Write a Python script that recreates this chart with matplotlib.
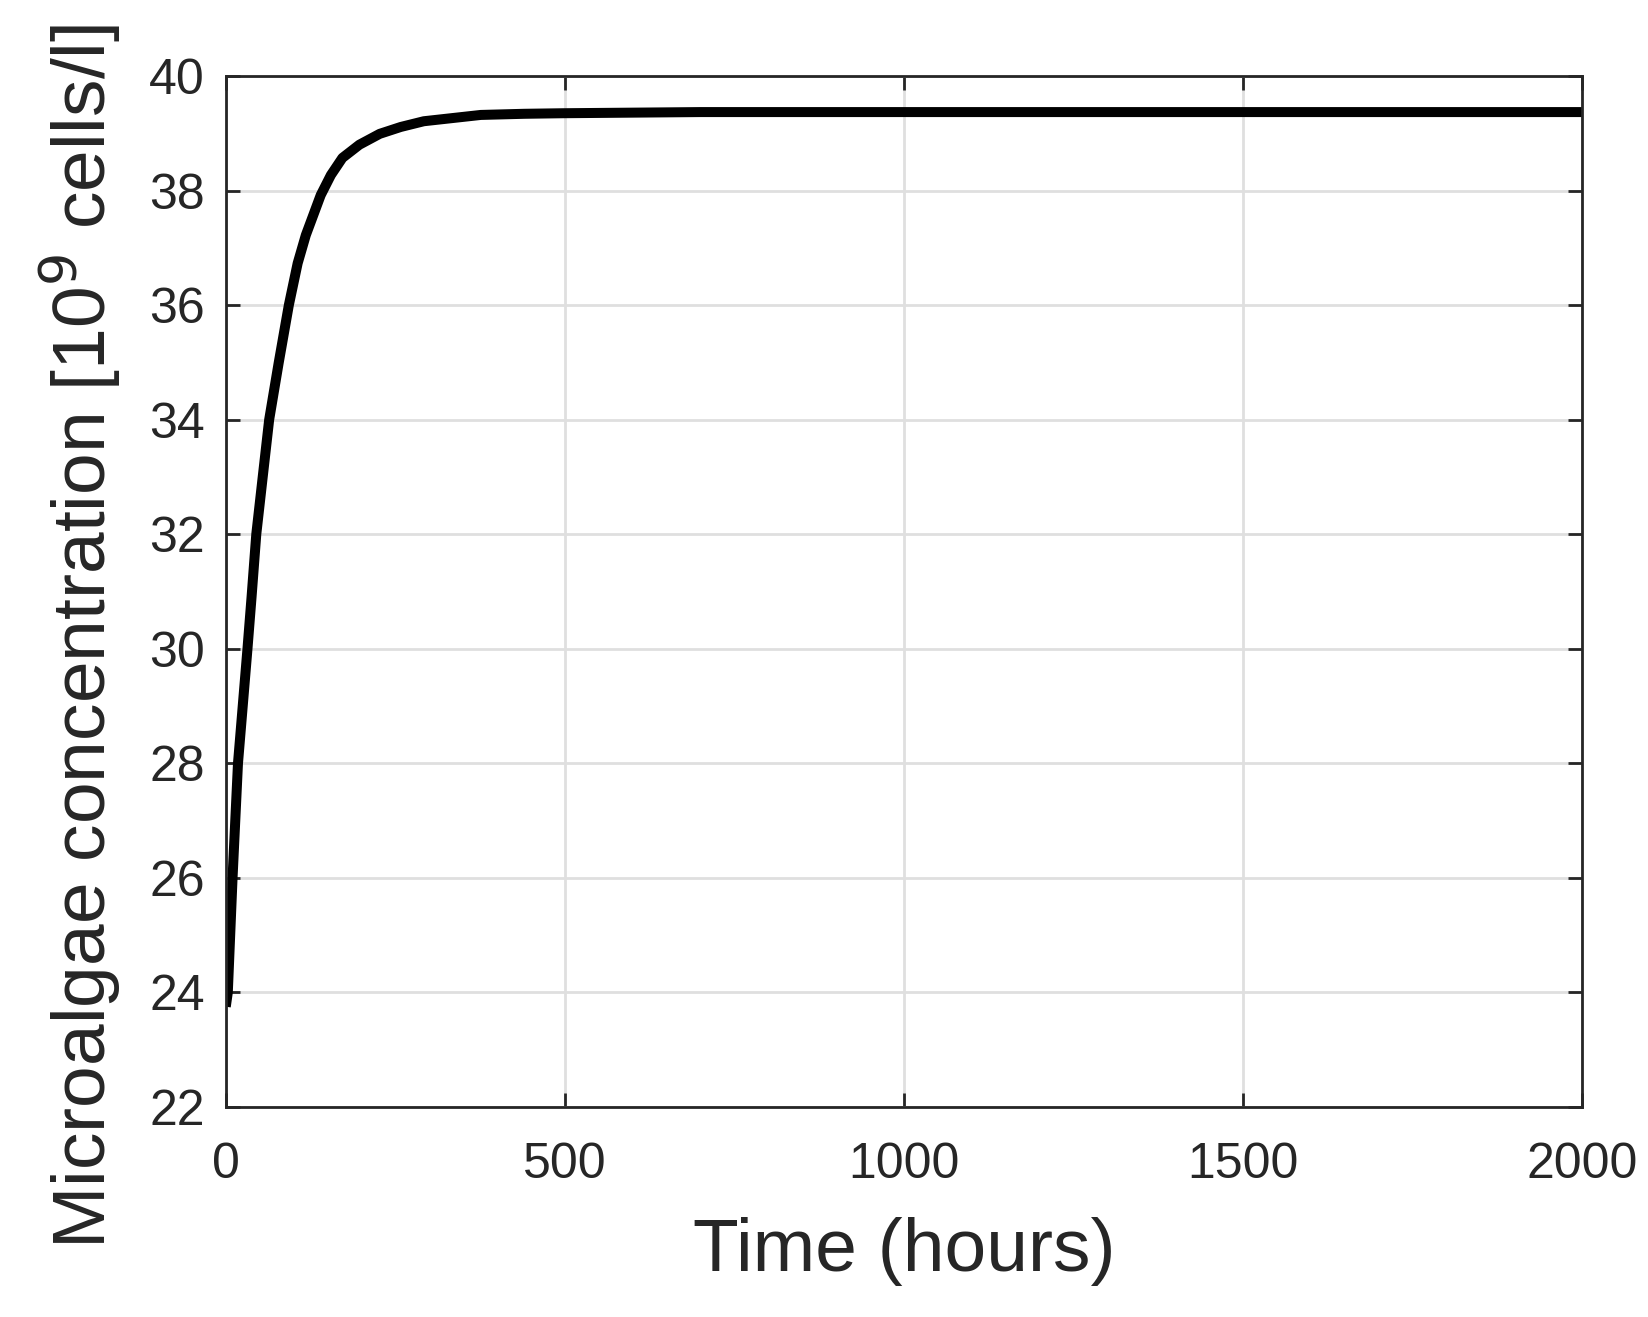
import matplotlib
matplotlib.use("Agg")
import matplotlib.pyplot as plt

# Data
time_hours = [0, 3, 10, 18, 32, 38, 45, 54, 64, 78, 93, 106, 118, 140, 155,
              172, 197, 227, 258, 292, 376, 440, 499, 700, 1000, 1500, 2000]
microalgae = [23.75, 24.0, 26.0, 28.0, 30.0, 30.9, 32.0, 32.95, 34.0, 34.99,
              36.0, 36.73, 37.22, 37.92, 38.27, 38.57, 38.80, 38.99, 39.11,
              39.21, 39.32, 39.34, 39.35, 39.37, 39.37, 39.37, 39.37]
x_ticks = [0, 500, 1000, 1500, 2000]
y_ticks = [22, 24, 26, 28, 30, 32, 34, 36, 38, 40]

plt.rcParams['font.family'] = ['Liberation Sans', 'DejaVu Sans']
dark = '#262626'

fig = plt.figure(figsize=(8.24, 6.585), dpi=200)
ax = fig.add_axes([0.137, 0.1595, 0.823, 0.7828])

ax.plot(time_hours, microalgae, color='black', linewidth=3.6,
        solid_joinstyle='round', solid_capstyle='butt')

ax.set_xlim(0, 2000)
ax.set_ylim(22, 40)
ax.set_xticks(x_ticks)
ax.set_yticks(y_ticks)
ax.grid(True, color='#dfdfdf', linewidth=1.0)
ax.set_axisbelow(True)

for s in ax.spines.values():
    s.set_color(dark)
    s.set_linewidth(1.0)

ax.tick_params(direction='in', length=5, width=1.0, colors=dark,
               top=True, right=True, labelsize=18)
ax.tick_params(axis='x', pad=12.5)
ax.tick_params(axis='y', pad=7.5)

ax.set_xlabel('Time (hours)', fontsize=27, color=dark)
ax.xaxis.set_label_coords(0.5, -0.107)
ax.set_ylabel('Microalgae concentration [10$^{9}$ cells/l]', fontsize=27, color=dark)
ax.yaxis.set_label_coords(-0.076, 0.456)

fig.savefig('out.png', dpi=200)
